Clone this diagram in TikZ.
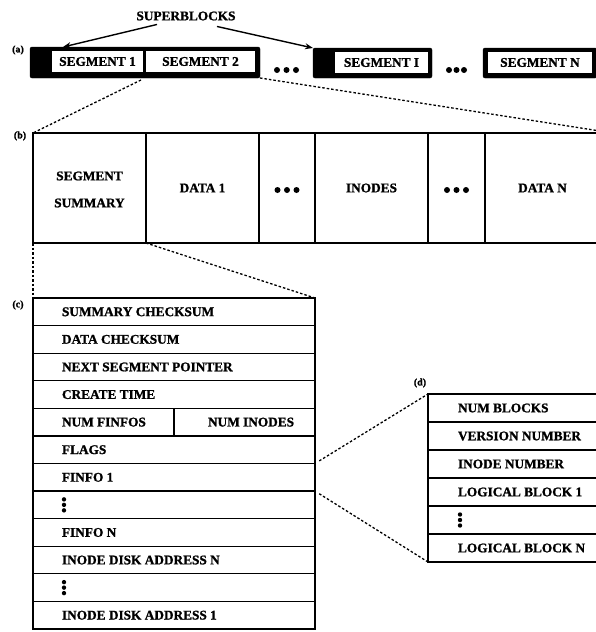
\documentclass[tikz,border=0pt]{standalone}
\usepackage{fontspec}
\setmainfont{Liberation Serif}[BoldFeatures={FakeBold=1.2}]
\usetikzlibrary{arrows.meta,calc}
\begin{document}
\begin{tikzpicture}[x=1pt,y=-1pt,
  every node/.style={outer sep=0pt, inner sep=0pt},
  txt/.style={font=\fontsize{13.3}{15}\selectfont\bfseries},
  tag/.style={font=\fontsize{10}{12}\selectfont\bfseries},
  barbox/.style={fill=black, draw=black, rounded corners=2pt, anchor=north west},
  whitebox/.style={fill=white, anchor=north west, txt},
  thickbox/.style={draw, line width=2.8pt, anchor=north west},
  cell/.style={draw, line width=1.3pt, anchor=north west},
  dotline/.style={line width=1.3pt, dash pattern=on 2.5pt off 2pt},
  arr/.style={-{Stealth[length=8pt,width=6pt]}, line width=1.4pt},
]
\useasboundingbox (0,0) rectangle (595,632);

% ---------- (a) ----------
\node[tag] (la) at (18,50) {(a)};
\node[txt] (sb) at (186,16) {SUPERBLOCKS};
\node[barbox, minimum width=230, minimum height=31] (bar) at (30,47) {};
\node[whitebox, minimum width=91, minimum height=21] (seg1) at (52,51) {SEGMENT 1};
\node[whitebox, minimum width=109, minimum height=21] (seg2) at (146,51) {SEGMENT 2};
\node[barbox, minimum width=119, minimum height=30] (barI) at (313,48) {};
\node[whitebox, minimum width=93, minimum height=21] (segI) at (335,52) {SEGMENT I};
\node[barbox, minimum width=114, minimum height=30] (barN) at (483,48) {};
\node[whitebox, minimum width=104, minimum height=21] (segN) at (488,52) {SEGMENT N};
\coordinate (z1) at (141,80);

\draw[arr] ([xshift=-29pt,yshift=-4pt]sb.south) -- ([xshift=33pt]bar.north west);
\draw[arr] ([xshift=31pt,yshift=-6pt]sb.south) -- (barI.north west);

\foreach \x in {277,286.5,296} \fill (\x,70) circle (3);
\foreach \x in {449,456.5,464} \fill (\x,70) circle (3);

% ---------- (b) ----------
\node[tag] (lb) at (20,136) {(b)};
\node[cell, minimum width=113, minimum height=110] (b1) at (33,133) {};
\node[cell, minimum width=113, minimum height=110, txt] (b2) at (146,133) {DATA 1};
\node[cell, minimum width=56, minimum height=110] (b3) at (259,133) {};
\node[cell, minimum width=113, minimum height=110, txt] (b4) at (315,133) {INODES};
\node[cell, minimum width=57, minimum height=110] (b5) at (428,133) {};
\node[cell, minimum width=115, minimum height=110, txt] (b6) at (485,133) {DATA N};
\node[thickbox, minimum width=567, minimum height=110] (bbox) at (33,133) {};
\node[align=center, font=\fontsize{13.3}{27}\selectfont\bfseries] (b1t) at ([yshift=-1.5pt]b1.center) {SEGMENT\\SUMMARY};
\foreach \x in {-9.5,0,9.5} {
  \fill ([xshift=\x pt,yshift=-2pt]b3.center) circle (3);
  \fill ([xshift=\x pt,yshift=-2pt]b5.center) circle (3);
}

\draw[dotline] (z1) -- (bbox.north west);
\draw[dotline] (bar.south east) -- ([yshift=2pt]bbox.north east);

% ---------- (c) ----------
\node[tag] (lc) at (18,305) {(c)};
\foreach \i in {0,...,11}
  \node[cell, minimum width=282, minimum height=27.583] (c\i) at (33,{298+\i*27.583}) {};
\node[cell, minimum width=141, minimum height=27.583] (c4r) at (174,{298+4*27.583}) {};
\node[thickbox, minimum width=282, minimum height=331] (cbox) at (33,298) {};

\node[txt, anchor=west] at ([xshift=29pt]c0.west) {SUMMARY CHECKSUM};
\node[txt, anchor=west] at ([xshift=29pt]c1.west) {DATA CHECKSUM};
\node[txt, anchor=west] at ([xshift=29pt]c2.west) {NEXT SEGMENT POINTER};
\node[txt, anchor=west] at ([xshift=29pt]c3.west) {CREATE TIME};
\node[txt, anchor=west] at ([xshift=29pt]c4.west) {NUM FINFOS};
\node[txt, anchor=west] at ([xshift=34pt]c4r.west) {NUM INODES};
\node[txt, anchor=west] at ([xshift=29pt]c5.west) {FLAGS};
\node[txt, anchor=west] at ([xshift=29pt]c6.west) {FINFO 1};
\node[txt, anchor=west] at ([xshift=29pt]c8.west) {FINFO N};
\node[txt, anchor=west] at ([xshift=29pt]c9.west) {INODE DISK ADDRESS N};
\node[txt, anchor=west] at ([xshift=29pt]c11.west) {INODE DISK ADDRESS 1};
\foreach \r in {c7,c10}
  \foreach \d in {-5.5,0,5.5}
    \fill ([xshift=31pt,yshift=\d pt]\r.west) circle (2.2);

\draw[dotline] (bbox.south west) -- (cbox.north west);
\draw[dotline] (b1.south east) -- (cbox.north east);

% ---------- (d) ----------
\node[tag] (ld) at (420,383) {(d)};
\foreach \i in {0,...,5}
  \node[cell, minimum width=172, minimum height=28] (d\i) at (428,{394+\i*28}) {};
\node[thickbox, minimum width=172, minimum height=168] (dbox) at (428,394) {};
\node[txt, anchor=west] at ([xshift=30pt]d0.west) {NUM BLOCKS};
\node[txt, anchor=west] at ([xshift=30pt]d1.west) {VERSION NUMBER};
\node[txt, anchor=west] at ([xshift=30pt]d2.west) {INODE NUMBER};
\node[txt, anchor=west] at ([xshift=30pt]d3.west) {LOGICAL BLOCK 1};
\node[txt, anchor=west] at ([xshift=30pt]d5.west) {LOGICAL BLOCK N};
\foreach \d in {-5.5,0,5.5}
  \fill ([xshift=32pt,yshift=\d pt]d4.west) circle (2.2);

\draw[dotline, shorten <=5pt] (c6.north east) -- (dbox.north west);
\draw[dotline, shorten <=5pt] (c6.south east) -- (dbox.south west);
\end{tikzpicture}
\end{document}
